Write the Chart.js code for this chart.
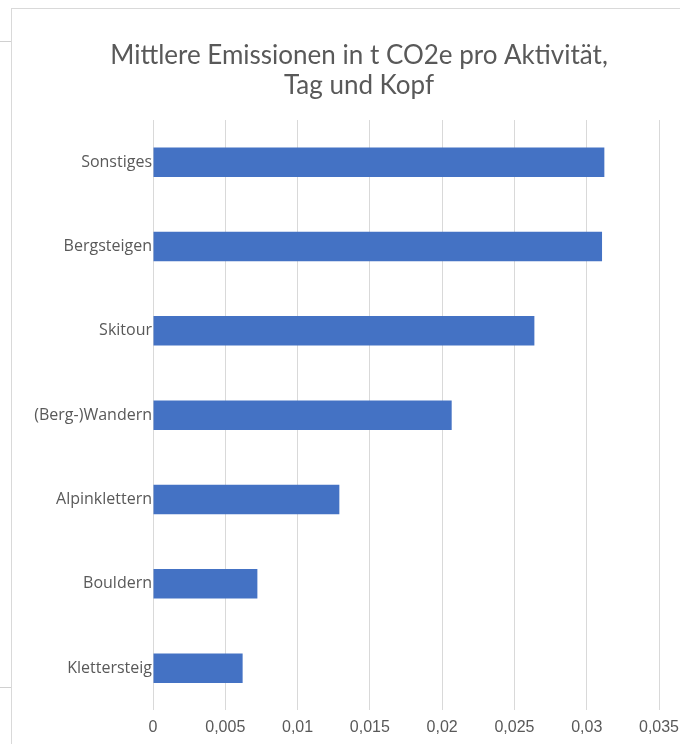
<!DOCTYPE html>
<html>
<head>
<meta charset="utf-8">
<script src="https://cdn.jsdelivr.net/npm/chart.js@4/dist/chart.umd.min.js"></script>
<style>
  html, body { margin: 0; padding: 0; width: 680px; height: 744px; overflow: hidden; background: #fff; }
  #frame { position: absolute; left: 11px; top: 8px; width: 700px; height: 760px;
           border-left: 1px solid #d9d9d9; border-top: 1px solid #d9d9d9; background: #fff; }
  #wrap { position: absolute; left: 0; top: 0; width: 700px; height: 736px; }
  .bg1 { position: absolute; left: 0; top: 41px; width: 11px; height: 1px; background: #d0d0d0; }
  .bg2 { position: absolute; left: 0; top: 687px; width: 11px; height: 1px; background: #d0d0d0; }
</style>
</head>
<body>
<div class="bg1"></div>
<div class="bg2"></div>
<div id="frame"><div id="wrap"><canvas id="c"></canvas></div></div>
<script>
const categories = ["Sonstiges", "Bergsteigen", "Skitour", "(Berg-)Wandern", "Alpinklettern", "Bouldern", "Klettersteig"];
const emissions = [0.03122, 0.03106, 0.02638, 0.02066, 0.01289, 0.00722, 0.0062];
const xTicks = [0, 0.005, 0.01, 0.015, 0.02, 0.025, 0.03, 0.035];
const titleLines = ["Mittlere Emissionen in t CO2e pro Aktivität,", "Tag und Kopf"];

const textColor = "#595959";

// centre the title on the full (uncropped) chart frame
const titleCenterPlugin = {
  id: "titleCenter",
  afterLayout(chart) {
    const tb = chart.titleBlock;
    if (tb) { tb.left = 0; tb.right = 694; }
  }
};

new Chart(document.getElementById("c"), {
  type: "bar",
  data: {
    labels: categories,
    datasets: [{
      data: emissions,
      backgroundColor: "#4472C4",
      borderWidth: 0,
      categoryPercentage: 1,
      barPercentage: 0.35
    }]
  },
  plugins: [titleCenterPlugin],
  options: {
    indexAxis: "y",
    responsive: true,
    maintainAspectRatio: false,
    animation: false,
    devicePixelRatio: 1,
    layout: { padding: { left: 0, right: 53, top: 8, bottom: 0.5 } },
    plugins: {
      legend: { display: false },
      tooltip: { enabled: false },
      title: {
        display: true,
        text: titleLines,
        color: textColor,
        font: { family: "Lato", size: 26, weight: "normal", lineHeight: 1.1538 },
        padding: { top: 23.5, bottom: 19.5 }
      }
    },
    scales: {
      x: {
        type: "linear",
        min: 0,
        max: 0.035,
        afterBuildTicks: (scale) => { scale.ticks = xTicks.map(v => ({ value: v })); },
        ticks: {
          color: textColor,
          font: { family: "Liberation Sans", size: 16 },
          padding: 7.5,
          maxRotation: 0,
          callback: (v) => String(v).replace(".", ",")
        },
        grid: { color: "#d9d9d9", lineWidth: 1, drawTicks: false },
        border: { display: false }
      },
      y: {
        afterFit: (scale) => { scale.width = 141; },
        ticks: {
          color: textColor,
          font: { family: "Open Sans", size: 16 },
          padding: 1
        },
        grid: { display: false, drawTicks: false },
        border: { display: false }
      }
    }
  }
});
</script>
</body>
</html>
